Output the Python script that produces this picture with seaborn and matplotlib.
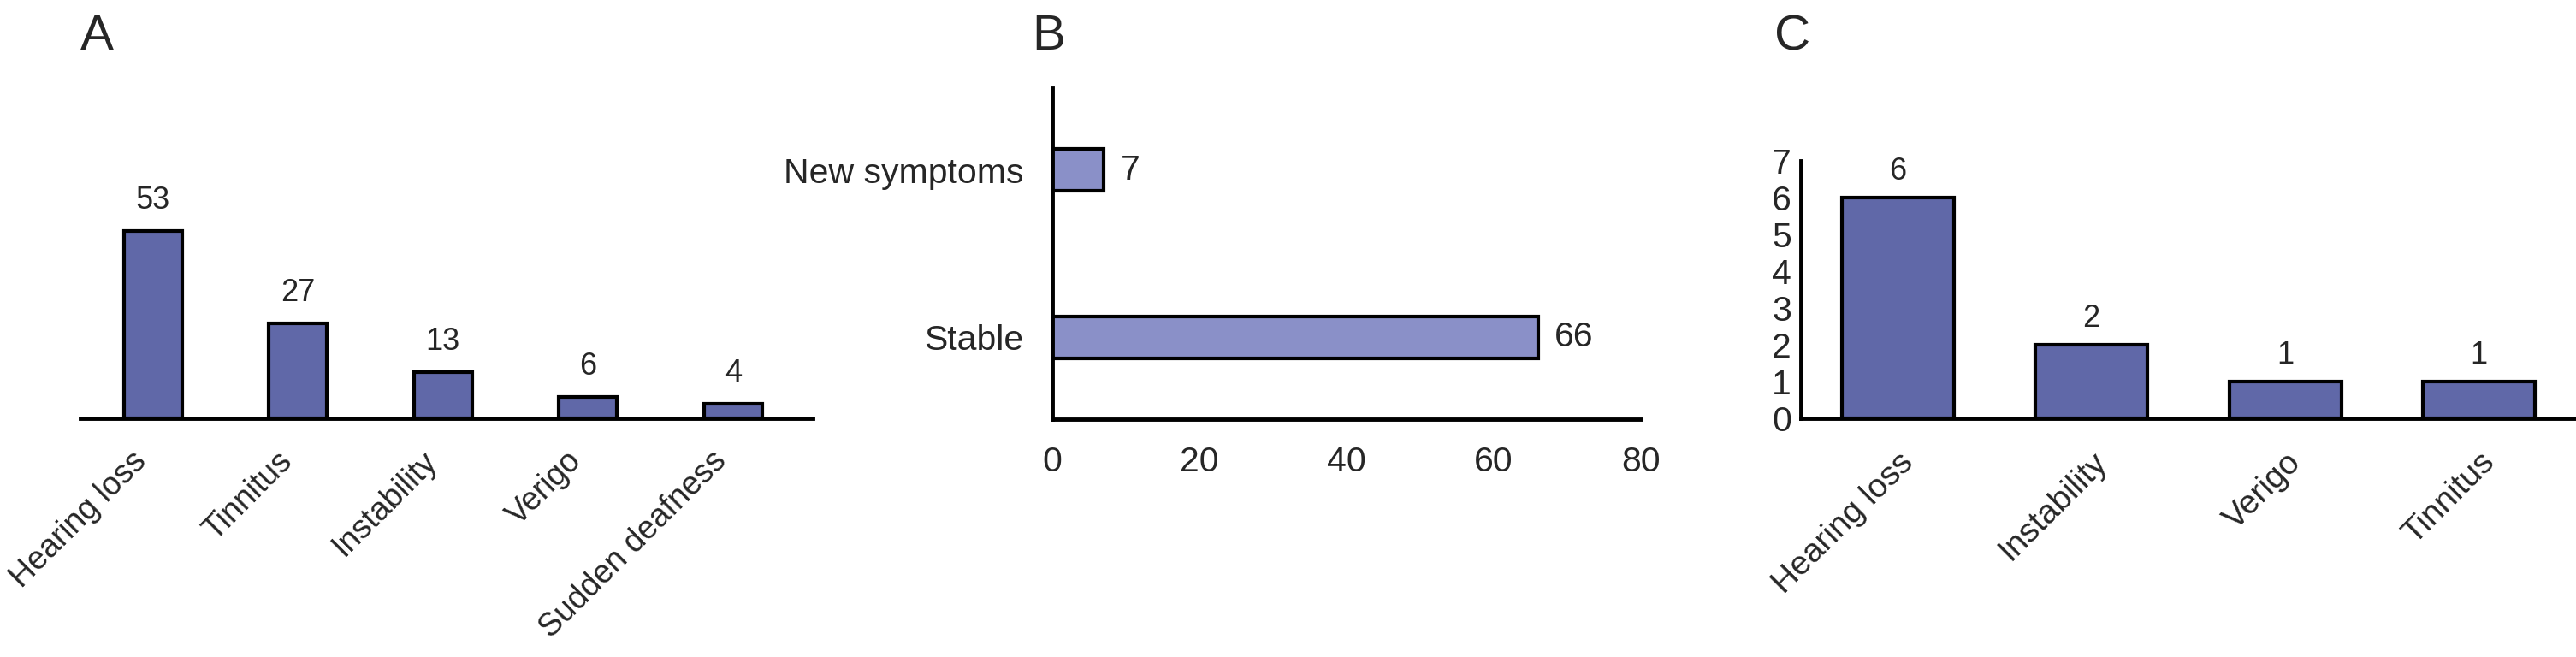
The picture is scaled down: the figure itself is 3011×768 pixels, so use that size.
import pandas as pd
import numpy as np
import matplotlib
matplotlib.use('Agg')
import matplotlib.pyplot as plt
import seaborn as sns

# plain white style, no grid
sns.set_theme(style='white')
plt.rcParams['font.family'] = ['Liberation Sans', 'DejaVu Sans']

# data
symptoms_a = ['Hearing loss', 'Tinnitus', 'Instability', 'Verigo', 'Sudden deafness']
counts_a = [53, 27, 13, 6, 4]

status_b = ['New symptoms', 'Stable']
counts_b = [7, 66]
ticks_b = [0, 20, 40, 60, 80]

symptoms_c = ['Hearing loss', 'Instability', 'Verigo', 'Tinnitus']
counts_c = [6, 2, 1, 1]
ticks_c = [0, 1, 2, 3, 4, 5, 6, 7]

dark_blue = '#6068a8'
light_blue = '#8a90c8'

df_a = pd.DataFrame({'symptom': symptoms_a, 'n': counts_a})
df_b = pd.DataFrame({'status': status_b, 'n': counts_b})
df_c = pd.DataFrame({'symptom': symptoms_c, 'n': counts_c})

fig = plt.figure(figsize=(30.11, 7.68), dpi=100)
ax_a = fig.add_axes([0.0312, 0.3633, 0.2843, 0.392])
ax_b = fig.add_axes([0.4085, 0.362, 0.2285, 0.504])
ax_c = fig.add_axes([0.6991, 0.3633, 0.3009, 0.392])

edge_kw = dict(edgecolor='black', linewidth=3)
tick_fs = 29.5
rot_fs = 28
val_fs = 26
letter_fs = 42

#####################
## PANEL A ##
#####################
sns.barplot(x='symptom', y='n', data=df_a, color=dark_blue, saturation=1,
            width=0.4, ax=ax_a, **edge_kw)
ax_a.set_xlim(-0.5, 4.55)
ax_a.set_ylim(0, 73)
ax_a.set_xlabel('')
ax_a.set_ylabel('')
ax_a.set_yticks([])
for s in ['top', 'right', 'left']:
    ax_a.spines[s].set_visible(False)
ax_a.spines['bottom'].set_linewidth(3.5)
ax_a.spines['bottom'].set_color('black')
ax_a.tick_params(axis='x', length=0, pad=23, labelsize=27)
plt.setp(ax_a.get_xticklabels(), rotation=45, ha='right')
for i, v in enumerate(counts_a):
    ax_a.annotate(str(v), (i, v), xytext=(0, 13), textcoords='offset points',
                  ha='center', va='bottom', fontsize=val_fs)
fig.text(0.0312, 0.924, 'A', fontsize=letter_fs, ha='left', va='baseline')

#####################
## PANEL B ##
#####################
sns.barplot(y='status', x='n', data=df_b, color=light_blue, saturation=1,
            width=0.25, orient='h', ax=ax_b, **edge_kw)
ax_b.set_xlim(0, 80)
ax_b.set_ylim(1.49, -0.49)
ax_b.set_xticks(ticks_b)
ax_b.set_xlabel('')
ax_b.set_ylabel('')
for s in ['top', 'right']:
    ax_b.spines[s].set_visible(False)
for s in ['bottom', 'left']:
    ax_b.spines[s].set_linewidth(3.5)
    ax_b.spines[s].set_color('black')
ax_b.tick_params(axis='x', length=0, pad=22, labelsize=tick_fs)
ax_b.tick_params(axis='y', length=0, pad=24, labelsize=tick_fs)
for i, v in enumerate(counts_b):
    ax_b.annotate(str(v), (v, i), xytext=(14, 0), textcoords='offset points',
                  ha='left', va='center', fontsize=tick_fs)
fig.text(0.4005, 0.924, 'B', fontsize=letter_fs, ha='left', va='baseline')

#####################
## PANEL C ##
#####################
sns.barplot(x='symptom', y='n', data=df_c, color=dark_blue, saturation=1,
            width=0.58, ax=ax_c, **edge_kw)
ax_c.set_xlim(-0.5, 3.5)
ax_c.set_ylim(0, 7)
ax_c.set_yticks(ticks_c)
ax_c.set_xlabel('')
ax_c.set_ylabel('')
for s in ['top', 'right']:
    ax_c.spines[s].set_visible(False)
for s in ['bottom', 'left']:
    ax_c.spines[s].set_linewidth(3.5)
    ax_c.spines[s].set_color('black')
ax_c.tick_params(axis='x', length=0, pad=24, labelsize=rot_fs)
ax_c.tick_params(axis='y', length=0, pad=8, labelsize=tick_fs)
plt.setp(ax_c.get_xticklabels(), rotation=45, ha='right', va='top',
         rotation_mode='anchor')
for i, v in enumerate(counts_c):
    ax_c.annotate(str(v), (i, v), xytext=(0, 9), textcoords='offset points',
                  ha='center', va='bottom', fontsize=val_fs)
fig.text(0.6888, 0.924, 'C', fontsize=letter_fs, ha='left', va='baseline')

fig.savefig('out.png', dpi=100, facecolor='white')
